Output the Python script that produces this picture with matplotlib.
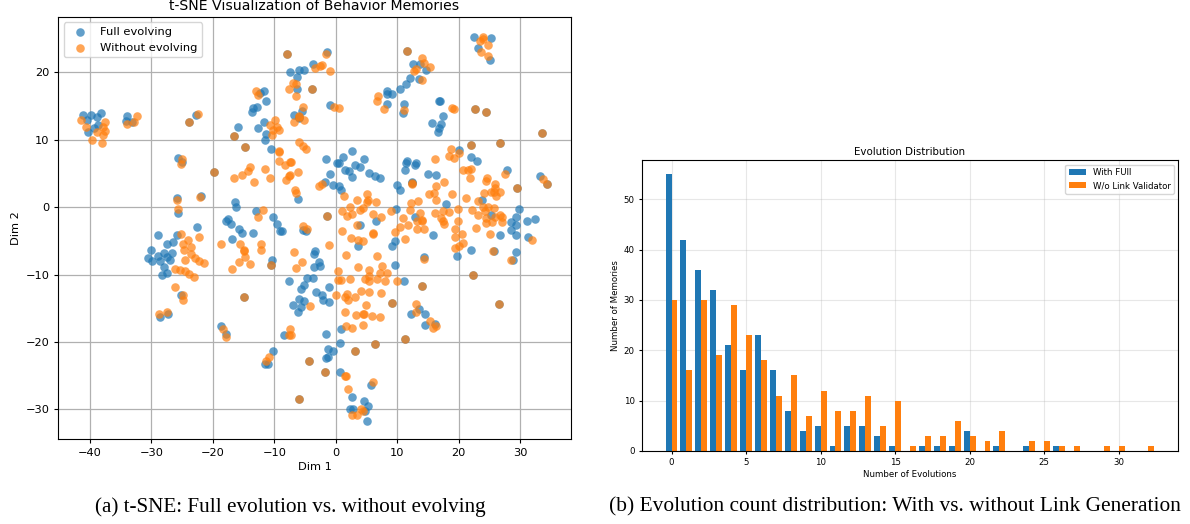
import matplotlib
matplotlib.use("Agg")
import matplotlib.pyplot as plt

W, H = 1190, 524

# t-SNE points as (dim1, dim2)
full_pts = [
    (-41.2,13.7),(-39.8,13.7),(-38.2,14.0),(-38.9,13.4),(-40.4,12.9),(-38.7,12.2),(-39.4,11.7),(-40.3,11.2),
    (-33.9,13.6),(-34.2,12.8),(-33.2,12.7),(-22.7,13.7),(-25.6,7.3),(-25.0,6.7),(-25.9,1.4),(-25.6,-0.9),
    (-22.0,1.6),(-16.4,0.7),(-16.2,0.0),(-13.0,-0.6),(-10.2,-1.5),(-15.9,11.9),(-13.6,14.2),(-13.5,14.7),
    (-12.8,14.8),(-11.3,15.7),(-11.7,17.2),(-12.4,17.0),(-12.7,11.7),(-11.6,12.6),(-11.4,10.9),(-11.5,9.9),
    (-10.6,8.7),(-7.5,20.1),(-5.9,20.3),(-5.1,20.3),(-6.3,19.3),(-6.3,17.6),(-6.8,13.7),(-6.0,13.3),(-5.5,14.3),
    (-6.1,1.2),(-1.4,23.0),(-3.7,21.3),(-0.9,15.1),
    (-1.6,7.1),(1.2,7.4),(2.7,8.3),(0.2,6.5),(0.5,6.5),(3.2,6.2),(4.6,7.1),(4.0,5.9),(1.5,5.5),(2.2,5.4),
    (-0.9,4.9),(2.6,4.5),(5.5,5.1),(6.4,4.7),(7.2,4.3),(-1.8,3.8),(-0.5,3.3),(0.5,3.2),(0.9,2.6),(9.8,-0.3),
    (6.5,-2.0),(9.9,3.3),(10.4,2.5),(12.4,3.8),(12.9,-1.5),(11.2,5.5),(11.4,6.5),(11.6,6.8),(12.9,6.2),(13.1,6.6),
    (15.1,5.0),(16.3,4.8),(20.0,8.5),(22.0,7.4),(23.0,6.8),(27.9,5.5),(33.2,4.7),(23.8,1.0),(17.9,0.5),(29.8,-0.3),
    (25.3,-1.1),(29.3,-1.5),(28.6,-2.2),(31.2,-2.0),(32.5,-1.8),(29.4,-2.7),(28.6,-3.4),(29.3,-4.1),(31.3,-4.4),
    (22.5,25.3),(25.2,25.1),(23.1,23.6),(25.1,21.9),(12.6,21.2),(13.7,21.2),(14.7,20.3),(12.1,19.1),(11.5,18.3),
    (10.5,17.6),(13.6,19.0),(8.4,17.2),(8.4,16.8),(9.1,16.8),(8.3,15.3),(11.1,15.3),(11.0,14.0),(16.8,15.8),
    (17.0,15.7),(17.5,13.6),(15.7,12.5),(17.2,12.3),(16.8,11.7),(16.7,11.1),
    (-22.5,-2.9),(-28.9,-4.1),(-25.9,-4.1),(-26.5,-5.2),(-27.5,-5.5),(-30.1,-6.3),(-30.5,-7.5),(-29.9,-8.0),
    (-29.0,-7.3),(-28.6,-8.0),(-28.0,-6.8),(-27.4,-7.4),(-27.0,-7.9),(-26.6,-6.8),(-27.9,-8.9),(-27.4,-9.8),
    (-28.2,-10.1),(-25.2,-13.0),(-28.6,-16.3),(-27.3,-15.8),(-17.6,-1.8),(-17.8,-2.0),(-17.0,-2.5),(-15.7,-3.3),
    (-15.3,-3.9),(-13.5,-3.8),(-16.9,-4.7),(-9.6,-2.5),(-9.0,-3.5),(-8.8,-3.6),(-10.4,-7.9),
    (-18.6,-17.6),(-17.9,-18.8),(-10.2,-21.4),(-11.5,-23.2),(-11.1,-23.2),(-7.6,-10.9),(-8.4,-18.9),
    (-5.3,-3.4),(-4.9,-3.5),(-3.4,-6.5),(-3.6,-6.9),(-2.7,-8.2),(-2.6,-8.7),(-3.5,-8.9),(-4.7,-10.5),(-3.7,-10.5),
    (-5.1,-11.6),(-5.6,-12.2),(-1.1,-11.8),(-3.2,-12.6),(-2.3,-13.1),(-2.0,-13.8),(-1.1,-14.1),(-6.0,-13.6),
    (-5.2,-13.9),(-6.9,-14.5),(-5.7,-14.8),(-6.2,-15.6),(4.0,-2.6),(3.7,-5.8),(9.7,-5.0),(9.1,-5.7),(15.8,-4.1),
    (19.7,-7.3),(22.0,-6.4),(25.7,-6.5),(26.8,-4.1),(28.9,-7.8),(29.4,-6.6),(14.4,-7.4),(9.7,-8.6),(11.1,-10.96),
    (0.9,-18.1),(13.6,-15.1),(12.2,-15.8),(14.5,-15.8),(14.5,-17.5),(16.1,-17.3),
    (-1.5,-18.8),(0.7,-20.2),(-1.2,-21.0),(-0.5,-21.4),(-1.2,-22.3),(-1.6,-22.4),(0.7,-24.5),(5.8,-26.4),
    (2.6,-28.1),(4.6,-28.7),(5.2,-29.5),(2.3,-29.9),(2.8,-29.9),(4.7,-30.3),(5.1,-31.7),
]
without_pts = [
    (-41.5,13.0),(-40.7,11.9),(-37.6,12.7),(-37.9,11.9),(-37.5,11.3),(-38.9,11.1),(-37.9,10.7),(-39.7,9.9),(-38.1,9.5),
    (-33.9,12.3),(-32.9,12.6),(-32.4,13.5),(-22.4,13.9),(-25.0,7.1),(-25.1,6.4),(-25.8,1.1),(-25.6,-0.2),(-22.1,1.5),
    (-11.8,-0.4),(-12.6,-1.5),(-12.9,17.3),(-12.6,16.7),(-9.9,13.0),(-10.7,12.2),(-9.6,11.9),(-9.2,11.5),(-10.2,11.4),
    (-10.3,10.7),(-9.2,8.3),(-9.2,8.2),(-9.3,6.8),(-8.3,6.2),(-7.4,6.7),(-7.6,4.7),(-8.1,4.0),(-6.1,5.2),
    (-13.9,5.9),(-14.2,5.4),(-15.2,4.8),(-16.5,4.3),(-13.3,3.8),(-11.5,5.7),(-10.7,4.4),(-6.7,2.6),(-6.4,2.1),
    (-7.6,17.5),(-6.9,18.4),(-6.4,18.3),(-6.5,16.5),(-6.8,12.6),(-6.0,13.5),(-5.1,12.9),(-5.4,14.9),
    (-6.0,9.7),(-5.4,9.1),(-4.9,8.6),(-7.3,6.7),(-7.5,4.8),
    (-1.5,22.7),(-3.4,20.6),(-2.5,21.0),(-2.3,21.1),(-0.9,20.2),(-0.3,14.9),(0.5,14.7),
    (-2.2,3.5),(-2.7,3.2),(1.4,1.7),(3.4,1.0),(5.1,2.0),(5.2,1.1),(5.1,0.7),(6.5,0.8),(2.4,0.0),(1.1,-0.6),(3.9,-0.4),
    (4.4,-0.1),(1.8,-1.3),(2.6,-1.0),(6.1,-1.0),(7.4,-1.5),(9.0,-0.5),(12.5,3.5),(10.9,-1.6),(12.1,-0.4),(12.2,0.6),
    (13.4,0.9),(13.7,-0.8),(14.0,-1.9),(16.2,7.2),(18.8,8.6),(20.0,8.1),(18.5,7.6),(19.3,7.3),(20.8,5.5),(21.6,5.5),
    (22.0,5.7),(21.8,4.4),(24.7,4.3),(24.5,3.9),(27.5,5.0),(33.7,4.2),(16.3,3.1),(17.6,3.7),(15.2,2.0),(16.0,2.1),
    (16.3,1.0),(18.9,2.0),(21.2,1.4),(26.0,3.4),(25.9,2.8),(25.2,2.2),(24.1,2.1),(25.8,2.2),(26.8,2.2),(26.1,1.6),
    (23.2,0.9),(24.0,0.1),(24.8,0.0),(25.7,-0.1),(24.3,-0.6),(22.2,-0.4),(19.9,-0.3),(18.5,-0.7),(17.4,-0.5),(16.2,-0.8),
    (17.2,-1.6),(19.9,-2.1),(24.5,-1.6),(25.9,-1.4),(27.1,-1.4),
    (23.9,25.3),(23.9,24.9),(23.5,24.7),(24.8,24.1),(23.6,23.0),(24.8,22.5),(14.0,22.2),(14.4,21.4),(15.4,20.8),
    (13.1,20.5),(12.7,20.2),(14.0,18.9),(6.9,16.5),(6.8,15.8),(7.8,14.6),(11.1,14.4),(18.9,14.7),(19.3,14.6),
    (-25.1,-4.0),(-22.2,-4.4),(-24.0,-4.8),(-24.8,-5.4),(-23.5,-5.9),(-24.7,-6.3),(-23.5,-7.0),(-22.9,-7.6),(-22.2,-8.0),
    (-21.4,-8.3),(-24.5,-7.9),(-26.2,-9.1),(-25.3,-9.3),(-24.6,-9.5),(-23.8,-9.9),(-23.1,-10.3),(-26.2,-11.9),
    (-24.9,-13.1),(-24.8,-13.8),(-28.7,-15.9),(-27.4,-15.6),(-18.6,-5.4),(-15.5,-5.4),(-15.0,-6.4),(-15.0,-6.5),
    (-14.7,-7.4),(-15.7,-8.2),(-14.0,-8.5),(-16.8,-9.1),(-12.1,-5.5),(-12.1,-6.3),(-18.4,-18.1),(-17.9,-19.2),
    (-10.9,-22.2),(-11.4,-22.8),(-7.5,-18.1),(-7.6,-18.9),(-7.3,-18.9),(-6.8,-6.7),(-6.5,-9.0),(-5.5,-8.1),
    (-5.4,-2.8),(-4.6,-3.3),(-1.1,-5.6),(-4.2,-14.7),(1.1,-3.5),(3.5,-2.7),(2.5,-4.6),(3.6,-4.9),(4.5,-5.0),(6.1,-4.0),
    (6.1,-3.9),(1.7,-7.1),(6.7,-7.2),(11.2,-4.7),(9.7,-3.7),(10.5,-3.0),(11.8,-2.6),(13.2,-3.3),(14.4,-3.2),(13.3,-2.0),
    (14.0,-2.0),(17.5,-2.0),(17.6,-2.5),(19.5,-3.3),(20.5,-4.0),(19.4,-4.4),(20.8,-5.3),(19.5,-6.0),(20.1,-5.8),
    (22.9,-3.1),(23.2,-1.2),(24.4,-2.3),(25.5,-2.2),(26.8,-1.1),(27.1,-2.2),(25.1,-4.0),(25.6,-6.5),(28.6,-7.9),(32.0,-4.9),
    (14.3,-7.7),(3.6,-8.9),(0.4,-9.5),(0.4,-10.8),(0.9,-10.8),(2.3,-10.7),(4.7,-10.7),(5.5,-9.3),(5.4,-10.2),(5.5,-11.0),
    (6.7,-10.7),(7.5,-8.8),(7.2,-9.7),(8.3,-9.7),(8.1,-11.0),(9.9,-10.96),(0.1,-13.0),(1.8,-12.9),(1.5,-13.4),(2.0,-13.8),
    (3.2,-13.3),(4.2,-12.5),(5.4,-12.6),(7.4,-12.7),(5.0,-14.5),(1.5,-15.5),(3.3,-16.0),(4.5,-15.9),(4.6,-15.9),(5.9,-16.2),
    (7.2,-16.3),(4.5,-17.5),(1.7,-17.7),(2.7,-18.0),(13.1,-14.3),(13.0,-15.6),(15.3,-16.9),(15.9,-18.0),(16.4,-17.6),
    (1.5,-25.0),(1.7,-25.0),(6.1,-26.0),(2.0,-27.0),(4.1,-29.9),(4.5,-30.3),(2.7,-30.9),(3.4,-30.8),
]
# both runs land on the same spot, these show up brown
both_pts = [
    (-23.8,12.7),(-19.8,5.2),(-16.6,10.6),(-14.7,8.9),(-7.9,22.8),(-3.9,17.6),(-6.0,13.4),(-1.4,-1.3),(11.6,23.2),
    (22.1,9.3),(26.8,9.6),(33.6,11.0),(34.4,3.4),(29.5,2.9),(22.7,14.6),(24.5,14.1),(12.4,3.6),(-10.6,-8.6),(-14.9,-13.3),
    (-6.0,-28.4),(14.0,-11.7),(9.1,-14.2),(22.3,-10.1),(26.5,-14.4),(11.2,-19.5),(6.4,-20.3),(3.2,-21.3),(-4.3,-22.8),
    (-1.7,-24.4),
]

# histogram of evolution counts
evolutions = list(range(33))
with_full = [55,42,36,32,21,16,23,16,8,4,5,1,5,5,3,1,0,1,1,1,4,0,1,0,1,0,1,0,0,0,0,0,0]
wo_link = [30,16,30,19,29,23,18,11,15,7,12,8,8,11,5,10,1,3,3,6,3,2,4,0,2,2,1,1,0,1,1,0,1]

fig = plt.figure(figsize=(W / 100, H / 100), dpi=100)


def axes_px(left, top, right, bottom):
    return fig.add_axes([left / W, 1 - bottom / H, (right - left) / W, (bottom - top) / H])


# left panel
ax1 = axes_px(58, 16.5, 571, 439)
blue = full_pts + both_pts
orange = without_pts + both_pts
ax1.scatter([p[0] for p in blue], [p[1] for p in blue], s=38, alpha=0.7, c="#1f77b4",
            linewidths=0, label="Full evolving")
ax1.scatter([p[0] for p in orange], [p[1] for p in orange], s=38, alpha=0.7, c="#ff7f0e",
            linewidths=0, label="Without evolving")
ax1.set_xlim(-45.2, 38.3)
ax1.set_ylim(-34.4, 28.3)
ax1.set_xticks(range(-40, 31, 10))
ax1.set_yticks(range(-30, 21, 10))
ax1.set_title("t-SNE Visualization of Behavior Memories", fontsize=10.1, pad=5)
ax1.set_xlabel("Dim 1", fontsize=8.2, labelpad=3)
ax1.set_ylabel("Dim 2", fontsize=8.2, labelpad=3)
ax1.tick_params(labelsize=8.2, length=3.2, pad=3)
ax1.grid(True, lw=0.9)
ax1.set_axisbelow(True)
ax1.legend(loc="upper left", fontsize=8.25)

# right panel
ax2 = axes_px(641.7, 160.3, 1178.3, 451)
ax2.bar([x - 0.2 for x in evolutions], with_full, width=0.4, color="#1f77b4", label="With FUll")
ax2.bar([x + 0.2 for x in evolutions], wo_link, width=0.4, color="#ff7f0e", label="W/o Link Validator")
ax2.set_xlim(-2, 34)
ax2.set_ylim(0, 57.75)
ax2.set_title("Evolution Distribution", fontsize=7.4, pad=4)
ax2.set_xlabel("Number of Evolutions", fontsize=6.2, labelpad=2)
ax2.set_ylabel("Number of Memories", fontsize=6.2, labelpad=3)
ax2.tick_params(labelsize=6.2, length=2.5, pad=2.5)
ax2.grid(True, alpha=0.3)
ax2.set_axisbelow(True)
ax2.legend(loc="upper right", fontsize=6.2)

# captions
fig.text(290 / W, 1 - 507 / H, "(a) t-SNE: Full evolution vs. without evolving",
         family="Liberation Serif", fontsize=15.2, ha="center", va="center")
fig.text(895 / W, 1 - 507 / H, "(b) Evolution count distribution: With vs. without Link Generation",
         family="Liberation Serif", fontsize=15.4, ha="center", va="center")

fig.savefig("out.png", dpi=100)
